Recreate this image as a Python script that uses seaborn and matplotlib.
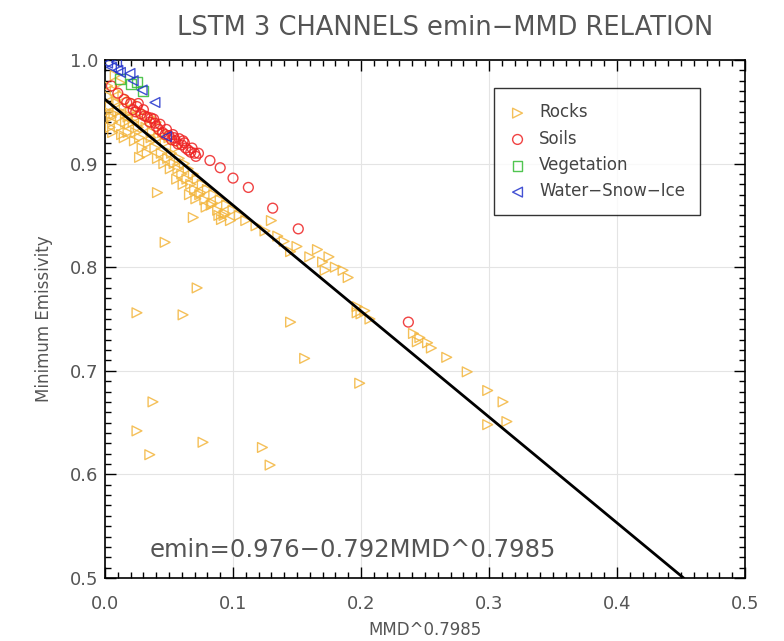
import numpy as np
import pandas as pd
import matplotlib
matplotlib.use("Agg")
import matplotlib.pyplot as plt
import seaborn as sns
from matplotlib.ticker import MultipleLocator, FormatStrFormatter

# ---------------- data ----------------
rocks_x = [0.002, 0.003, 0.004, 0.005, 0.006, 0.002, 0.008, 0.009, 0.010, 0.011, 0.012, 0.014, 0.015,
           0.016, 0.018, 0.020, 0.021, 0.022, 0.024, 0.025, 0.027, 0.028, 0.030, 0.032, 0.034, 0.035,
           0.037, 0.039, 0.040, 0.042, 0.044, 0.045, 0.047, 0.049, 0.050, 0.052, 0.054, 0.055, 0.057,
           0.058, 0.060, 0.062, 0.064, 0.065, 0.067, 0.069, 0.070, 0.072, 0.074, 0.076, 0.078, 0.080,
           0.083, 0.085, 0.088, 0.090, 0.093, 0.095, 0.098, 0.100, 0.008, 0.012,
           0.004, 0.007, 0.010, 0.013, 0.016, 0.019, 0.023, 0.026, 0.029, 0.033, 0.036, 0.041, 0.046,
           0.051, 0.056, 0.061, 0.066, 0.071, 0.075, 0.079, 0.084, 0.089, 0.094, 0.006, 0.015, 0.018,
           0.105, 0.110, 0.118, 0.125, 0.130, 0.135, 0.140, 0.145, 0.150, 0.160, 0.166, 0.170, 0.175,
           0.180, 0.186, 0.172, 0.190, 0.197, 0.200, 0.203, 0.207, 0.197, 0.241, 0.246, 0.252, 0.244,
           0.255, 0.267, 0.283, 0.299, 0.311, 0.299, 0.314,
           0.027, 0.041, 0.069, 0.091, 0.047, 0.072, 0.025, 0.061, 0.145, 0.156, 0.199, 0.0375, 0.025,
           0.0766, 0.035, 0.123, 0.129]
rocks_y = [0.975, 0.965, 0.955, 0.945, 0.940, 0.950, 0.970, 0.960, 0.950, 0.935, 0.945, 0.965, 0.955,
           0.940, 0.930, 0.950, 0.960, 0.940, 0.930, 0.945, 0.925, 0.950, 0.940, 0.935, 0.920, 0.945,
           0.930, 0.915, 0.940, 0.925, 0.910, 0.930, 0.920, 0.905, 0.925, 0.910, 0.900, 0.915, 0.895,
           0.905, 0.890, 0.900, 0.885, 0.895, 0.880, 0.890, 0.875, 0.885, 0.870, 0.880, 0.865, 0.875,
           0.860, 0.870, 0.855, 0.865, 0.850, 0.860, 0.845, 0.855, 0.985, 0.978,
           0.935, 0.948, 0.958, 0.928, 0.948, 0.938, 0.922, 0.935, 0.915, 0.910, 0.925, 0.905, 0.900,
           0.895, 0.885, 0.880, 0.870, 0.866, 0.872, 0.858, 0.862, 0.850, 0.852, 0.930, 0.925, 0.945,
           0.850, 0.845, 0.840, 0.835, 0.845, 0.830, 0.825, 0.815, 0.820, 0.810, 0.817, 0.805, 0.810,
           0.800, 0.797, 0.797, 0.790, 0.762, 0.755, 0.758, 0.750, 0.756, 0.736, 0.732, 0.727, 0.728,
           0.722, 0.713, 0.699, 0.681, 0.670, 0.648, 0.651,
           0.906, 0.872, 0.848, 0.846, 0.824, 0.780, 0.756, 0.754, 0.747, 0.712, 0.688, 0.670, 0.642,
           0.631, 0.619, 0.626, 0.609]

soils_x = [0.005, 0.010, 0.015, 0.020, 0.022, 0.025, 0.028, 0.030, 0.033, 0.035, 0.038, 0.040, 0.043,
           0.045, 0.048, 0.050, 0.053, 0.055, 0.058, 0.060, 0.062, 0.065, 0.068, 0.070, 0.073, 0.082,
           0.090, 0.100, 0.112, 0.131, 0.151, 0.237,
           0.017, 0.024, 0.031, 0.036, 0.042, 0.047, 0.052, 0.057, 0.063, 0.067, 0.071, 0.026, 0.039,
           0.054, 0.061]
soils_y = [0.975, 0.968, 0.962, 0.958, 0.952, 0.955, 0.948, 0.952, 0.945, 0.940, 0.943, 0.936, 0.938,
           0.930, 0.933, 0.927, 0.928, 0.922, 0.924, 0.918, 0.920, 0.913, 0.915, 0.910, 0.910, 0.903,
           0.896, 0.886, 0.877, 0.857, 0.837, 0.747,
           0.959, 0.950, 0.946, 0.944, 0.933, 0.928, 0.923, 0.919, 0.915, 0.911, 0.907, 0.958, 0.939,
           0.925, 0.922]

veg_x = [0.012, 0.020, 0.025, 0.030]
veg_y = [0.982, 0.977, 0.979, 0.970]

wsi_x = [0.002, 0.005, 0.009, 0.010, 0.012, 0.0195, 0.022, 0.029, 0.039, 0.048]
wsi_y = [0.997, 0.993, 0.998, 0.990, 0.988, 0.987, 0.980, 0.971, 0.959, 0.926]

fit_intercept = 0.962
fit_slope = -1.022
equation = "emin=0.976\u22120.792MMD^0.7985"

title = "LSTM 3 CHANNELS emin\u2212MMD RELATION"
xlabel = "MMD^0.7985"
ylabel = "Minimum Emissivity"

# ---------------- plot ----------------
sns.set_style("white")
plt.rcParams['font.family'] = ['DejaVu Sans']

fig = plt.figure(figsize=(7.84, 6.41), dpi=100)
ax = fig.add_axes([105/784, 1 - 578/641, 640/784, 518/641])

groups = [
    ("Rocks", rocks_x, rocks_y, ">", "#f3b53c"),
    ("Soils", soils_x, soils_y, "o", "#ee2222"),
    ("Vegetation", veg_x, veg_y, "s", "#33bb33"),
    ("Water\u2212Snow\u2212Ice", wsi_x, wsi_y, "<", "#2233cc"),
]
for name, xs, ys, mk, col in groups:
    df = pd.DataFrame({"x": xs, "y": ys})
    sns.scatterplot(data=df, x="x", y="y", ax=ax, marker=mk, s=50,
                    color=col, facecolor="none", edgecolor=col, linewidth=1.0,
                    alpha=0.85, label=name, zorder=3)

x_end = (0.5 - fit_intercept) / fit_slope
line_df = pd.DataFrame({"x": [0.0, x_end]})
line_df["y"] = fit_intercept + fit_slope * line_df["x"]
sns.lineplot(data=line_df, x="x", y="y", ax=ax, color="black", linewidth=2.0, zorder=4)

ax.set_xlim(0, 0.5)
ax.set_ylim(0.5, 1.0)
ax.xaxis.set_major_locator(MultipleLocator(0.1))
ax.xaxis.set_minor_locator(MultipleLocator(0.01))
ax.yaxis.set_major_locator(MultipleLocator(0.1))
ax.yaxis.set_minor_locator(MultipleLocator(0.01))
ax.xaxis.set_major_formatter(FormatStrFormatter("%.1f"))
ax.yaxis.set_major_formatter(FormatStrFormatter("%.1f"))

ax.grid(True, which="major", color="#e4e4e4", linewidth=0.8, zorder=0)
ax.set_axisbelow(True)
for sp in ax.spines.values():
    sp.set_color("black")
    sp.set_linewidth(1.2)
ax.tick_params(which="both", direction="in", top=True, right=True, bottom=True, left=True,
               color="black", width=1.0)
ax.tick_params(which="major", length=8, labelsize=13, labelcolor="#555555")
ax.tick_params(axis="x", which="major", pad=12)
ax.tick_params(axis="y", which="major", pad=5)
ax.tick_params(which="minor", length=4)

ax.set_xlabel(xlabel, fontsize=12, color="#555555", labelpad=6)
ax.set_ylabel(ylabel, fontsize=12, color="#555555", labelpad=12)
fig.text(445/784, 1 - 28/641, title, fontsize=18.5, color="#555555", ha="center", va="center")

ax.text(0.035, 0.527, equation, fontsize=17.5, color="#555555", ha="left", va="center", zorder=5)

leg = ax.legend(loc="upper right", bbox_to_anchor=(0.93, 0.945), frameon=True, fancybox=False,
                edgecolor="black", fontsize=12, handletextpad=0.8, borderpad=0.9,
                labelspacing=0.5, handlelength=1.0, borderaxespad=0)
leg.get_frame().set_linewidth(1.0)
for t in leg.get_texts():
    t.set_color("#444444")

fig.savefig("out.png", dpi=100)
